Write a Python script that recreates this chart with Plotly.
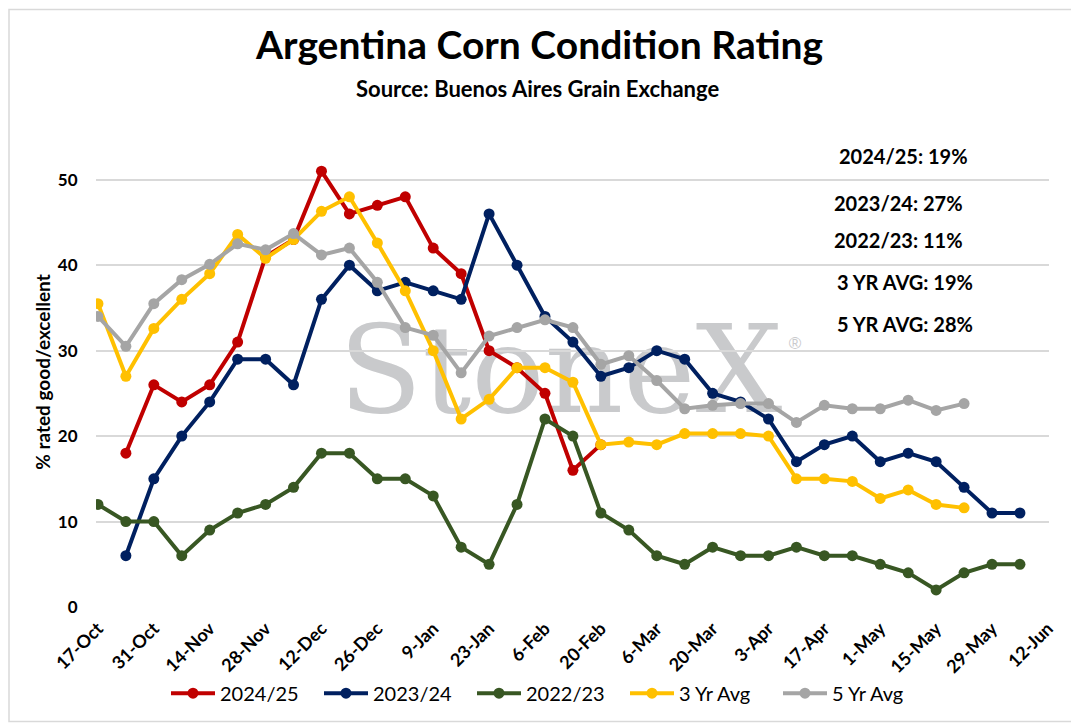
import plotly.graph_objects as go

WEEKS = [
    "17-Oct", "24-Oct", "31-Oct", "7-Nov", "14-Nov", "21-Nov", "28-Nov",
    "5-Dec", "12-Dec", "19-Dec", "26-Dec", "2-Jan", "9-Jan", "16-Jan",
    "23-Jan", "30-Jan", "6-Feb", "13-Feb", "20-Feb", "27-Feb", "6-Mar",
    "13-Mar", "20-Mar", "27-Mar", "3-Apr", "10-Apr", "17-Apr", "24-Apr",
    "1-May", "8-May", "15-May", "22-May", "29-May", "5-Jun", "12-Jun",
]
TICK_LABELS = WEEKS[::2]

SEASON_2024_25 = [
    None, 18, 26, 24, 26, 31, 41, 43, 51, 46, 47, 48, 42, 39, 30, 28, 25, 16,
    19, None, None, None, None, None, None, None, None, None, None, None, None,
    None, None, None, None,
]
SEASON_2023_24 = [
    None, 6, 15, 20, 24, 29, 29, 26, 36, 40, 37, 38, 37, 36, 46, 40, 34, 31,
    27, 28, 30, 29, 25, 24, 22, 17, 19, 20, 17, 18, 17, 14, 11, 11, None,
]
SEASON_2022_23 = [
    12, 10, 10, 6, 9, 11, 12, 14, 18, 18, 15, 15, 13, 7, 5, 12, 22, 20, 11, 9,
    6, 5, 7, 6, 6, 7, 6, 6, 5, 4, 2, 4, 5, 5, None,
]
AVG_3YR = [
    35.5, 27, 32.6, 36, 39, 43.6, 40.8, 43, 46.3, 48, 42.6, 37, 30, 22, 24.3,
    28, 28, 26.3, 19, 19.3, 19, 20.3, 20.3, 20.3, 20, 15, 15, 14.7, 12.7, 13.7,
    12, 11.6, None, None, None,
]
AVG_5YR = [
    34, 30.5, 35.5, 38.3, 40.1, 42.5, 41.8, 43.7, 41.2, 42, 38, 32.7, 31.8,
    27.4, 31.7, 32.7, 33.6, 32.7, 28.4, 29.4, 26.5, 23.2, 23.6, 23.8, 23.8,
    21.6, 23.6, 23.2, 23.2, 24.2, 23, 23.8, None, None, None,
]

SERIES = [
    ("2024/25", SEASON_2024_25, "#C00000"),
    ("2023/24", SEASON_2023_24, "#002060"),
    ("2022/23", SEASON_2022_23, "#385723"),
    ("3 Yr Avg", AVG_3YR, "#FFC000"),
    ("5 Yr Avg", AVG_5YR, "#A5A5A5"),
]
LATEST = [
    "2024/25: 19%", "2023/24: 27%", "2022/23: 11%",
    "3 YR AVG: 19%", "5 YR AVG: 28%",
]

# page body has an 8px margin, so the figure is shrunk by that much
OFF = 8
W, H = 1079 - OFF, 725 - OFF
PLOT_L, PLOT_R, PLOT_T, PLOT_B = 96, 1049, 137, 609
PW, PH = PLOT_R - PLOT_L, PLOT_B - PLOT_T
FONT = "Lato"
WATERMARK = "#C9CACC"


def px_x(x):
    return (x - PLOT_L) / PW


def px_y(y):
    return (PLOT_B - y) / PH


fig = go.Figure()
for name, values, color in SERIES:
    fig.add_trace(
        go.Scatter(
            x=WEEKS,
            y=values,
            name=name,
            mode="lines+markers",
            line={"color": color, "width": 4},
            marker={"color": color, "size": 11},
            connectgaps=False,
        )
    )

annotations = [
    {
        "text": "<b>Argentina Corn Condition Rating</b>",
        "x": px_x(539), "y": px_y(44),
        "font": {"size": 39, "color": "#000000"},
    },
    {
        "text": "<b>Source: Buenos Aires Grain Exchange</b>",
        "x": px_x(537), "y": px_y(88),
        "font": {"size": 22, "color": "#000000"},
    },
]
for text, (cx, cy) in zip(
    LATEST, [(903, 156), (898, 203), (898, 240), (905, 283), (905, 325)]
):
    annotations.append(
        {
            "text": f"<b>{text}</b>",
            "x": px_x(cx), "y": px_y(cy),
            "font": {"size": 20, "color": "#000000"},
        }
    )
for a in annotations:
    a.update({"xref": "paper", "yref": "paper", "showarrow": False,
              "xanchor": "center", "yanchor": "middle"})

fig.update_layout(
    width=W,
    height=H,
    paper_bgcolor="white",
    plot_bgcolor="white",
    font={"family": FONT, "color": "#000000"},
    margin={"l": PLOT_L - OFF, "r": 1079 - PLOT_R, "t": PLOT_T - OFF,
            "b": 725 - PLOT_B},
    showlegend=True,
    legend={
        "orientation": "h",
        "x": px_x(166), "xanchor": "left",
        "y": px_y(676), "yanchor": "top",
        "font": {"size": 20},
        "bgcolor": "rgba(0,0,0,0)",
        "itemwidth": 44,
        "entrywidth": 94,
        "entrywidthmode": "pixels",
        "traceorder": "normal",
    },
    xaxis={
        "type": "category",
        "range": [-0.07, 34.04],
        "tickvals": TICK_LABELS,
        "ticktext": TICK_LABELS,
        "tickangle": -45,
        "tickfont": {"size": 18, "weight": "bold"},
        "showgrid": False,
        "zeroline": False,
        "showline": False,
        "ticks": "outside",
        "ticklen": 3,
        "tickcolor": "rgba(0,0,0,0)",
    },
    yaxis={
        "range": [0, 55],
        "dtick": 10,
        "showgrid": True,
        "gridcolor": "#D9D9D9",
        "gridwidth": 1.5,
        "zeroline": False,
        "tickfont": {"size": 17, "weight": "bold"},
        "ticks": "outside",
        "ticklen": 14,
        "tickcolor": "rgba(0,0,0,0)",
        "title": {
            "text": "% rated good/excellent",
            "font": {"size": 19, "weight": "bold"},
            "standoff": 2,
        },
    },
    annotations=annotations,
    shapes=[
        {
            "type": "rect",
            "xref": "paper", "yref": "paper",
            "x0": px_x(328), "x1": px_x(793),
            "y0": px_y(422), "y1": px_y(302),
            "line": {"width": 0},
            "layer": "below",
            "label": {
                "text": "StoneX",
                "font": {"family": "DejaVu Serif", "size": 122,
                         "color": WATERMARK},
                "textposition": "middle center",
            },
        },
        {
            "type": "rect",
            "xref": "paper", "yref": "paper",
            "x0": px_x(785), "x1": px_x(805),
            "y0": px_y(352), "y1": px_y(332),
            "line": {"width": 0},
            "layer": "below",
            "label": {
                "text": "®",
                "font": {"family": "Liberation Sans", "size": 17,
                         "color": WATERMARK},
                "textposition": "middle center",
            },
        },
        {
            "type": "rect",
            "xref": "paper", "yref": "paper",
            "x0": px_x(OFF + 1), "x1": px_x(1078),
            "y0": px_y(724), "y1": px_y(OFF + 1),
            "line": {"color": "#D9D9D9", "width": 1.5},
            "layer": "above",
        },
    ],
)

fig.write_html("out.html")
